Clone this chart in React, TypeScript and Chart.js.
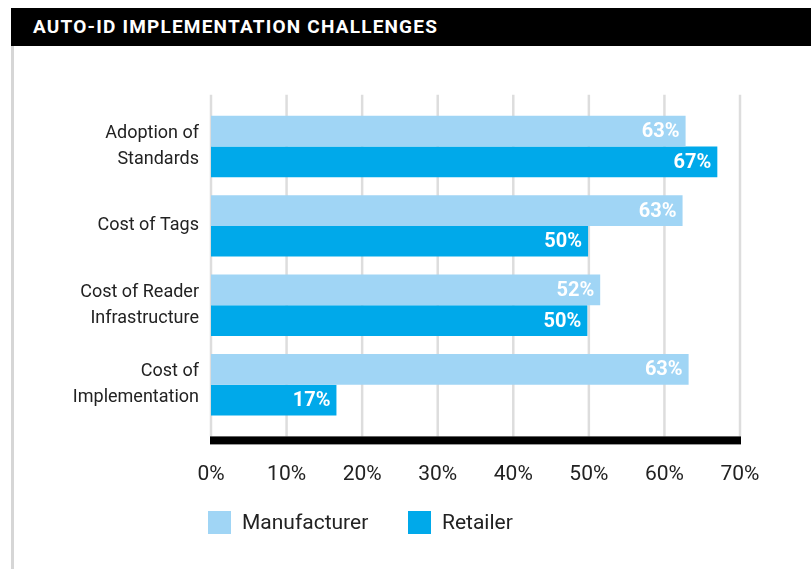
import React, { useEffect, useRef } from "react";
import { Chart, registerables } from "chart.js";

Chart.register(...registerables);

const categories: (string | string[])[] = [
  ["Adoption of", "Standards"],
  "Cost of Tags",
  ["Cost of Reader", "Infrastructure"],
  ["Cost of", "Implementation"],
];
const manufacturerValues = [62.8, 62.4, 51.5, 63.2];
const retailerValues = [67.0, 49.9, 49.8, 16.6];
const manufacturerLabels = ["63%", "63%", "52%", "63%"];
const retailerLabels = ["67%", "50%", "50%", "17%"];
const xTicks = [0, 10, 20, 30, 40, 50, 60, 70];
const seriesNames = ["Manufacturer", "Retailer"];
const seriesColors = ["#a0d5f5", "#00a9ea"];

const FONT = "Roboto, 'Noto Sans', sans-serif";

const customPlugin = {
  id: "customDecor",
  beforeDatasetsDraw(chart: any) {
    const { ctx, chartArea, scales } = chart;
    const x = scales.x;
    ctx.save();
    ctx.strokeStyle = "#dddddd";
    ctx.lineWidth = 2.5;
    for (const t of xTicks) {
      const px = x.getPixelForValue(t);
      ctx.beginPath();
      ctx.moveTo(px, chartArea.top - 12);
      ctx.lineTo(px, chartArea.bottom + 12);
      ctx.stroke();
    }
    ctx.restore();
  },
  afterDatasetsDraw(chart: any) {
    const { ctx, chartArea, scales } = chart;
    const x = scales.x;
    ctx.save();
    ctx.fillStyle = "#000";
    const x0 = x.getPixelForValue(0) - 1;
    const x1 = x.getPixelForValue(70) + 1;
    ctx.fillRect(x0, chartArea.bottom + 12, x1 - x0, 8);
    const allLabels = [manufacturerLabels, retailerLabels];
    ctx.fillStyle = "#ffffff";
    ctx.font = `bold 20px ${FONT}`;
    ctx.textAlign = "right";
    ctx.textBaseline = "middle";
    chart.data.datasets.forEach((_ds: any, i: number) => {
      const meta = chart.getDatasetMeta(i);
      meta.data.forEach((bar: any, j: number) => {
        ctx.fillText(allLabels[i][j], bar.x - 6, bar.y + 1);
      });
    });
    ctx.restore();
  },
};

export default function App() {
  const ref = useRef<HTMLCanvasElement>(null);
  useEffect(() => {
    if (!ref.current) return;
    const chart = new Chart(ref.current, {
      type: "bar",
      data: {
        labels: categories,
        datasets: [
          {
            label: seriesNames[0],
            data: manufacturerValues,
            backgroundColor: seriesColors[0],
            borderWidth: 0,
            categoryPercentage: 0.773,
            barPercentage: 1,
          },
          {
            label: seriesNames[1],
            data: retailerValues,
            backgroundColor: seriesColors[1],
            borderWidth: 0,
            categoryPercentage: 0.773,
            barPercentage: 1,
          },
        ],
      },
      options: {
        indexAxis: "y",
        responsive: false,
        animation: false,
        layout: { padding: { top: 106.8, right: 71, bottom: 0, left: 0 } },
        plugins: {
          legend: { display: false },
          tooltip: { enabled: false },
        },
        scales: {
          x: {
            type: "linear",
            min: 0,
            max: 70,
            afterBuildTicks: (scale: any) => {
              scale.ticks = xTicks.map((v) => ({ value: v }));
            },
            afterFit: (scale: any) => {
              scale.height = 144.6;
            },
            grid: { display: false, drawTicks: false },
            border: { display: false },
            ticks: {
              padding: 38,
              color: "#222",
              font: { family: FONT, size: 21 },
              callback: (v: any) => `${v}%`,
            },
          },
          y: {
            type: "category",
            afterFit: (scale: any) => {
              scale.width = 211;
            },
            grid: { display: false, drawTicks: false },
            border: { display: false },
            ticks: {
              padding: 12,
              color: "#222",
              font: { family: FONT, size: 18, lineHeight: 1.45 },
            },
          },
        },
      },
      plugins: [customPlugin],
    });
    return () => chart.destroy();
  }, []);

  return (
    <div
      style={{
        position: "fixed",
        left: 0,
        top: 0,
        width: 811,
        height: 569,
        background: "#fff",
        overflow: "hidden",
        fontFamily: FONT,
      }}
    >
      <div
        style={{
          position: "absolute",
          left: 11,
          top: 8,
          width: 800,
          height: 38,
          background: "#000",
          color: "#fff",
          fontWeight: 700,
          fontSize: 19,
          letterSpacing: 1.2,
          lineHeight: "38px",
          paddingLeft: 22,
          boxSizing: "border-box",
          whiteSpace: "nowrap",
        }}
      >
        AUTO-ID IMPLEMENTATION CHALLENGES
      </div>
      <div
        style={{
          position: "absolute",
          left: 11,
          top: 46,
          width: 3,
          height: 523,
          background: "#d6d6d6",
        }}
      />
      <canvas
        ref={ref}
        width={811}
        height={569}
        style={{ position: "absolute", left: 0, top: 0, display: "block" }}
      />
      {seriesNames.map((name, i) => (
        <div
          key={name}
          style={{
            position: "absolute",
            left: i === 0 ? 208 : 408,
            top: 511,
            height: 23,
            display: "flex",
            alignItems: "center",
          }}
        >
          <div style={{ width: 23, height: 23, background: seriesColors[i] }} />
          <span
            style={{
              marginLeft: 11,
              fontSize: 21,
              color: "#222",
              lineHeight: "23px",
            }}
          >
            {name}
          </span>
        </div>
      ))}
    </div>
  );
}
